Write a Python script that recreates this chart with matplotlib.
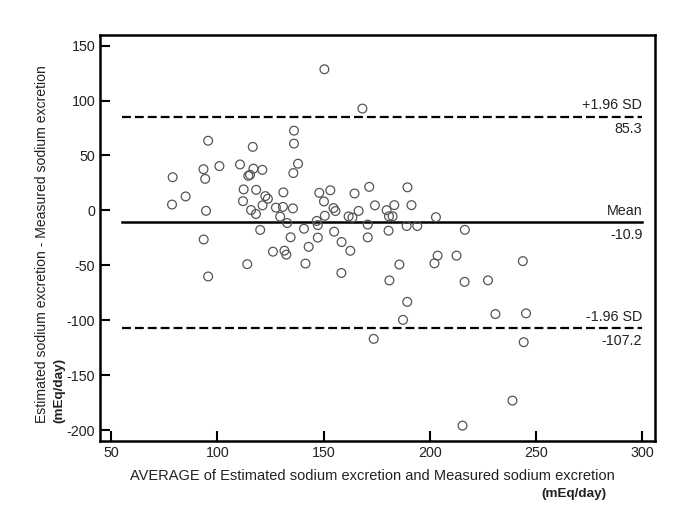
import matplotlib
matplotlib.use("Agg")
import matplotlib.pyplot as plt

plt.rcParams['font.family'] = ['Liberation Sans', 'DejaVu Sans']
plt.rcParams['axes.unicode_minus'] = False

# Bland-Altman data: average (x) and difference (y)
avg_vals = [78.7, 79.0, 85.1, 93.5, 94.3, 94.7, 93.6, 95.7, 95.7, 101.0,
            110.7, 112.4, 112.1, 114.1, 114.6, 115.4, 115.9, 116.7, 117.0, 118.3,
            118.2, 120.2, 121.2, 121.3, 122.6, 123.8, 126.2, 127.6, 129.6, 131.1,
            130.9, 132.9, 134.5, 131.6, 132.5, 135.6, 135.8, 136.1, 136.1, 138.0,
            140.8, 143.0, 141.5, 147.3, 147.3, 146.8, 148.0, 150.2, 150.6, 150.4,
            153.2, 154.7, 155.6, 155.0, 158.5, 158.4, 162.6, 161.8, 163.6, 164.6,
            166.5, 168.3, 171.5, 170.8, 170.8, 174.2, 173.6, 179.7, 180.8, 182.5,
            183.3, 180.6, 181.0, 185.7, 189.5, 191.4, 189.1, 194.1, 189.4, 187.4,
            202.9, 203.7, 202.2, 212.6, 216.5, 216.4, 215.4, 227.4, 230.9, 238.9,
            243.8, 244.2, 245.3]
diff_vals = [5.3, 30.2, 12.7, 37.5, 28.7, -0.4, -26.5, -60.2, 63.4, 40.3,
             41.8, 19.1, 8.4, -49.0, 31.5, 32.4, 0.3, 57.8, 38.0, 18.7,
             -3.3, -17.8, 36.9, 4.6, 13.0, 10.6, -37.6, 2.5, -5.7, 16.4,
             3.2, -11.5, -24.5, -36.7, -40.3, 1.8, 34.0, 72.6, 60.8, 42.5,
             -16.7, -33.2, -48.4, -24.8, -13.4, -9.6, 16.0, 8.1, -4.9, 128.5,
             18.3, 2.1, -0.6, -19.4, -28.8, -57.0, -36.8, -5.5, -6.6, 15.4,
             -0.5, 92.7, 21.4, -12.9, -24.6, 4.6, -117.0, 0.2, -5.4, -5.4,
             4.8, -18.5, -63.8, -49.3, 21.0, 4.8, -14.2, -14.2, -83.3, -99.7,
             -6.2, -41.2, -48.2, -41.2, -17.7, -65.1, -196.0, -63.7, -94.4, -173.2,
             -46.2, -120.0, -93.8]

mean_diff = -10.9
upper_loa = 85.3
lower_loa = -107.2
line_labels = ["+1.96 SD", "Mean", "-1.96 SD"]
line_values = [upper_loa, mean_diff, lower_loa]
line_texts = ["85.3", "-10.9", "-107.2"]

x_ticks = [50, 100, 150, 200, 250, 300]
y_ticks = [150, 100, 50, 0, -50, -100, -150, -200]

TXT = '#222222'

fig = plt.figure(figsize=(6.85, 5.13), dpi=100)
ax = fig.add_axes([100/685, 1-441/513, 555/685, 406/513])

ax.scatter(avg_vals, diff_vals, s=40, facecolors='none', edgecolors='#555555',
           linewidths=0.9, zorder=3)

x0, x1 = 55, 300
for lab, val, txt in zip(line_labels, line_values, line_texts):
    if lab == "Mean":
        ax.plot([x0, x1], [val, val], color='black', lw=1.8, zorder=2)
    else:
        ax.plot([x0, x1], [val, val], color='black', lw=1.6,
                linestyle=(0, (4, 1.8)), zorder=2)
    ax.annotate(lab, xy=(x1, val), xytext=(0, 8.2), textcoords='offset points',
                ha='right', va='center', fontsize=10.3, color=TXT)
    ax.annotate(txt, xy=(x1, val), xytext=(0, -9), textcoords='offset points',
                ha='right', va='center', fontsize=10.3, color=TXT)

ax.set_xlim(44.8, 306)
ax.set_ylim(-210, 159.7)
ax.set_xticks(x_ticks)
ax.set_yticks(y_ticks)
ax.tick_params(direction='in', length=7, width=1.5, labelsize=10.3, pad=3.5,
               labelcolor=TXT)
for s in ax.spines.values():
    s.set_linewidth(1.8)

fig.text(372/685, 1-476/513, "AVERAGE of Estimated sodium excretion and Measured sodium excretion",
         ha='center', va='center', fontsize=10.5, color=TXT)
fig.text(607/685, 1-494/513, "(mEq/day)", ha='right', va='center', fontsize=9.7,
         fontweight='bold', color=TXT)
fig.text(42/685, 1-423/513, "Estimated sodium excretion - Measured sodium excretion",
         rotation=90, ha='center', va='bottom', fontsize=10.1, color=TXT)
fig.text(59/685, 1-423/513, "(mEq/day)", rotation=90, ha='center', va='bottom',
         fontsize=9.7, fontweight='bold', color=TXT)

fig.savefig("out.png", dpi=100)
